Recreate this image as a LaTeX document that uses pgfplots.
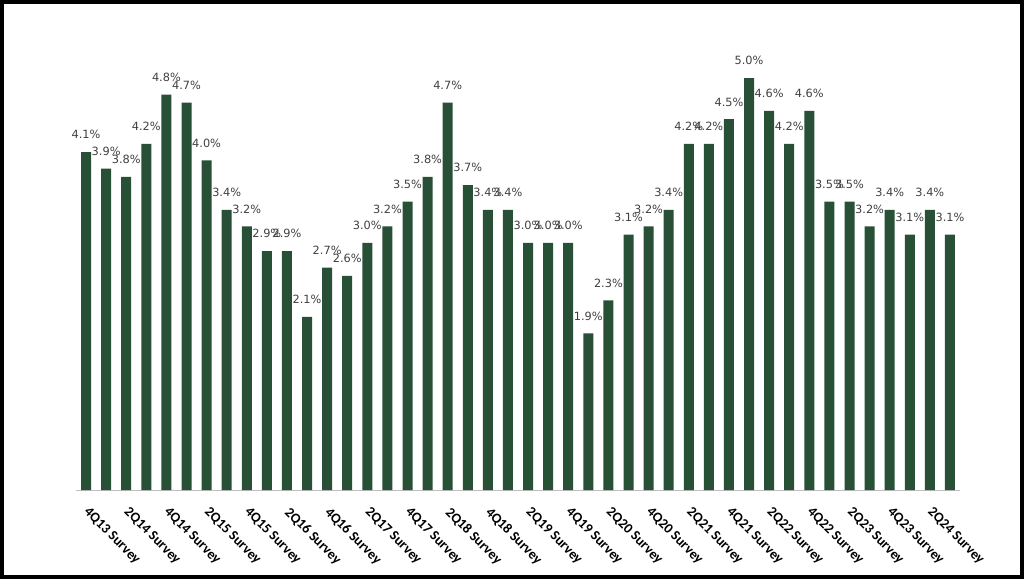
\documentclass[border=0pt]{standalone}
\usepackage{fontspec}
\setmainfont{Carlito}
\newfontfamily\dv{DejaVu Sans}
\usepackage{pgfplots}
\pgfplotsset{compat=1.18}
\definecolor{bargreen}{RGB}{39,80,54}
\definecolor{lblgray}{RGB}{64,64,64}
\begin{document}
\begin{tikzpicture}[x=1pt,y=1pt]
\useasboundingbox (0,0) rectangle (768,434.25);
\begin{axis}[
 at={(57pt,66.75pt)}, anchor=south west,
 scale only axis, width=663pt, height=345pt,
 xmin=-0.5, xmax=43.5, ymin=0, ymax=5.583,
 axis x line*=bottom, axis y line=none,
 x axis line style={draw=black!25, line width=0.75pt, -},
 ytick=\empty,
 xtick={0,2,...,42},
 xticklabels={4Q13 Survey,2Q14 Survey,4Q14 Survey,2Q15 Survey,4Q15 Survey,2Q16 Survey,4Q16 Survey,2Q17 Survey,4Q17 Survey,2Q18 Survey,4Q18 Survey,2Q19 Survey,4Q19 Survey,2Q20 Survey,4Q20 Survey,2Q21 Survey,4Q21 Survey,2Q22 Survey,4Q22 Survey,2Q23 Survey,4Q23 Survey,2Q24 Survey},
 major tick length=0pt,
 xticklabel style={font=\bfseries\fontsize{10.5}{12}\selectfont, text=black, xshift=3pt, yshift=-7.2pt, rotate=-45, anchor=north west},
 ybar, bar width=7.5pt,
 nodes near coords={\pgfmathprintnumber[fixed,fixed zerofill,precision=1,assume math mode=true]{\pgfplotspointmeta}\%},
 nodes near coords style={font=\dv\fontsize{8.5}{10}\selectfont, text=lblgray, anchor=center, yshift=13pt},
 clip=false,
]
\addplot[fill=bargreen, draw=none] coordinates {
(0,4.1) (1,3.9) (2,3.8) (3,4.2) (4,4.8) (5,4.7) (6,4.0) (7,3.4) (8,3.2) (9,2.9)
(10,2.9) (11,2.1) (12,2.7) (13,2.6) (14,3.0) (15,3.2) (16,3.5) (17,3.8) (18,4.7) (19,3.7)
(20,3.4) (21,3.4) (22,3.0) (23,3.0) (24,3.0) (25,1.9) (26,2.3) (27,3.1) (28,3.2) (29,3.4)
(30,4.2) (31,4.2) (32,4.5) (33,5.0) (34,4.6) (35,4.2) (36,4.6) (37,3.5) (38,3.5) (39,3.2)
(40,3.4) (41,3.1) (42,3.4) (43,3.1)
};
\end{axis}
\draw[line width=3pt] (1.5,1.5) rectangle (766.5,432.75);
\end{tikzpicture}
\end{document}
